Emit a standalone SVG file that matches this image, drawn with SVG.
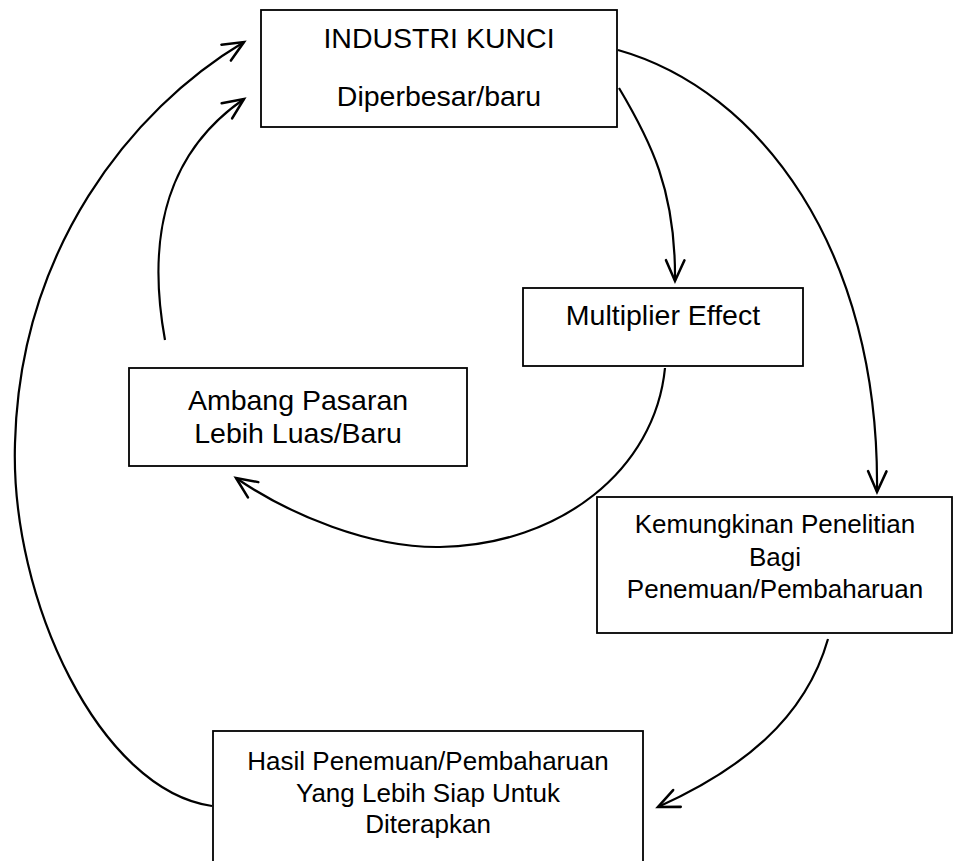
<svg xmlns="http://www.w3.org/2000/svg" width="955" height="861" viewBox="0 0 955 861">
<style>
.box{fill:#fff;stroke:#000;stroke-width:1.8}
.t{font-family:"Liberation Sans",Arial,sans-serif;fill:#000;text-anchor:middle}
.big{font-size:28.5px}
.sm{font-size:26px}
.c{fill:none;stroke:#000;stroke-width:2.2;marker-end:url(#ah)}
</style>
<defs>
<marker id="ah" markerUnits="userSpaceOnUse" orient="auto" refX="0" refY="0" markerWidth="30" markerHeight="30" viewBox="-22 -12 26 24" overflow="visible">
<path d="M-18,-8 L0,0 L-18,8" fill="none" stroke="#000" stroke-width="2.2" stroke-linecap="round" stroke-linejoin="miter"/>
</marker>
</defs>
<rect width="955" height="861" fill="#fff"/>
<g id="connectors">
<path class="c" d="M618,50 C760,90 880,250 877,492"/>
<path class="c" d="M619,88 C650,140 676,190 675,281"/>
<path class="c" d="M665,368 C655,470 560,545 440,547 C370,548 290,515 236,478"/>
<path class="c" d="M828,639 C805,720 740,770 658,807"/>
<path class="c" d="M212,806 C100,790 10,600 15,443 C20,250 130,110 244,42"/>
<path class="c" d="M165,340 C145,230 170,150 244,99"/>
</g>
<g id="industri-kunci">
<rect class="box" x="261" y="10" width="356" height="117"/>
<text class="t big" x="439" y="48">INDUSTRI KUNCI</text>
<text class="t big" x="439" y="106">Diperbesar/baru</text>
</g>
<g id="multiplier-effect">
<rect class="box" x="523" y="288" width="280" height="78"/>
<text class="t big" x="663" y="325">Multiplier Effect</text>
</g>
<g id="ambang-pasaran">
<rect class="box" x="129" y="368" width="338" height="98"/>
<text class="t big" x="298" y="410">Ambang Pasaran</text>
<text class="t big" x="298" y="443">Lebih Luas/Baru</text>
</g>
<g id="kemungkinan-penelitian">
<rect class="box" x="597" y="497" width="355" height="136"/>
<text class="t sm" x="775" y="533">Kemungkinan Penelitian</text>
<text class="t sm" x="775" y="566">Bagi</text>
<text class="t sm" x="775" y="598">Penemuan/Pembaharuan</text>
</g>
<g id="hasil-penemuan">
<rect class="box" x="213" y="731" width="430" height="140"/>
<text class="t sm" x="428" y="770">Hasil Penemuan/Pembaharuan</text>
<text class="t sm" x="428" y="802">Yang Lebih Siap Untuk</text>
<text class="t sm" x="428" y="833">Diterapkan</text>
</g>
</svg>
